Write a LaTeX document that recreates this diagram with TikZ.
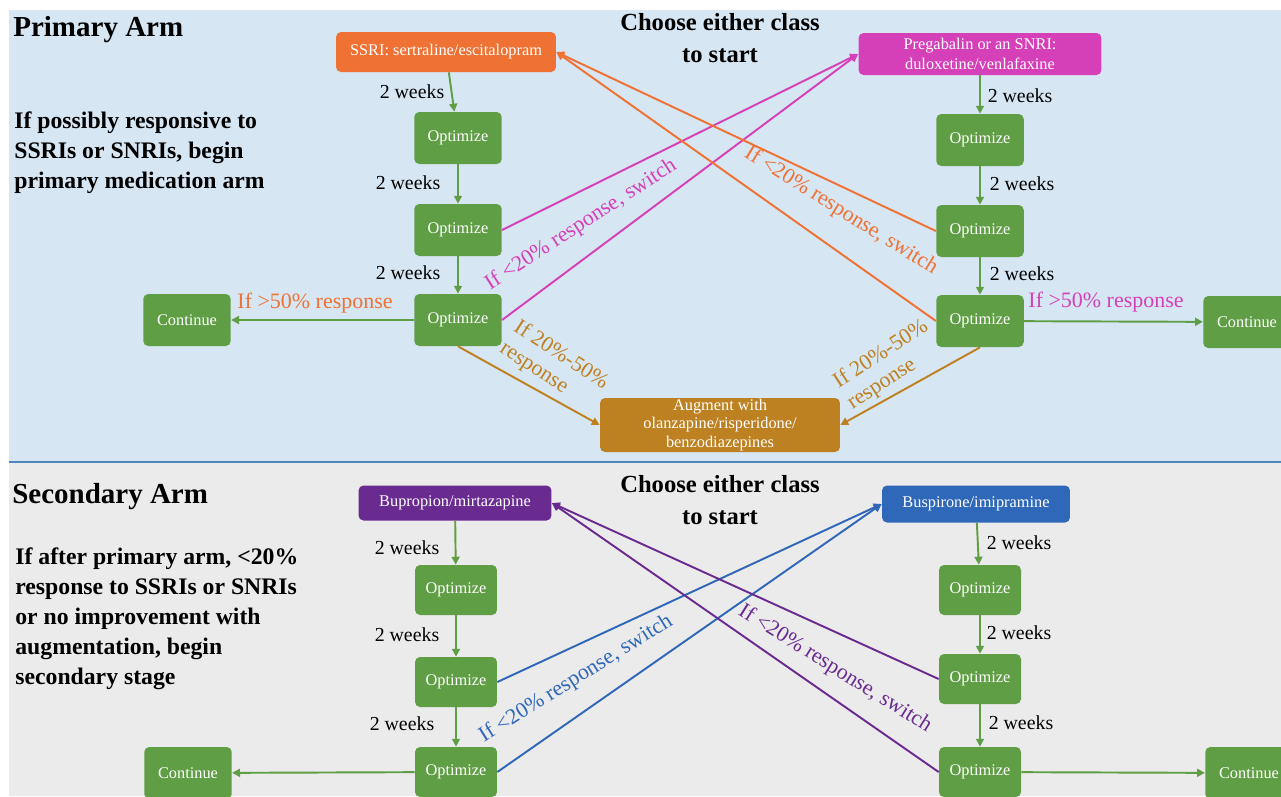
\documentclass[tikz,border=0pt]{standalone}
\usepackage{fontspec}
\setmainfont{Liberation Serif}
\usetikzlibrary{positioning,arrows.meta,calc}

\definecolor{bgtop}{HTML}{D7E6F3}
\definecolor{bgbot}{HTML}{EBEBEB}
\definecolor{sepblue}{HTML}{4F86BF}
\definecolor{optgreen}{HTML}{5F9E45}
\definecolor{ssriorange}{HTML}{EF7133}
\definecolor{snrimag}{HTML}{D540B9}
\definecolor{auggold}{HTML}{BE8121}
\definecolor{buppurple}{HTML}{6A2B90}
\definecolor{busblue}{HTML}{2F67B9}

\tikzset{
  box/.style={rounded corners=0.1cm, text=white, font=\fontsize{9.3}{11}\selectfont, align=center, inner sep=1pt},
  optbox/.style={box, fill=optgreen, minimum width=1.75cm, minimum height=1.04cm},
  optsmall/.style={box, fill=optgreen, minimum width=1.64cm, minimum height=1.0cm},
  link/.style={line width=1.1pt, -{Triangle[length=4.5pt,width=4.5pt]}},
  weeks/.style={font=\fontsize{11.3}{13}\selectfont},
  cond/.style={font=\fontsize{12.5}{14.5}\selectfont, align=left, inner sep=0pt},
  heading/.style={font=\bfseries\fontsize{16.5}{19}\selectfont, anchor=west, inner sep=0pt},
  note/.style={font=\bfseries\fontsize{13.5}{17.2}\selectfont, anchor=north west, align=left, inner sep=0pt},
  choose/.style={font=\bfseries\fontsize{14}{18}\selectfont, align=center}
}

\begin{document}
\begin{tikzpicture}[x=0.02cm, y=-0.02cm]
    \useasboundingbox (0,0) rectangle (1281,796);
    \clip (0,0) rectangle (1281,796);

    % Panels
    \fill[bgtop] (9,10) rectangle (1281,461);
    \fill[bgbot] (9,463) rectangle (1281,796);
    \draw[sepblue, line width=1.6pt] (9,462) -- (1281,462);

    % ---------------- Primary arm ----------------
    \node[heading] (primtitle) at (13,30) {Primary Arm};
    \node[note] (primnote) at (14,111) {If possibly responsive to\\SSRIs or SNRIs, begin\\primary medication arm};
    \node[choose] (choosetop) at (720,38) {Choose either class\\to start};

    \node[box, fill=ssriorange, minimum width=4.4cm, minimum height=0.8cm] (ssri) at (446,52) {SSRI: sertraline/escitalopram};
    \node[box, fill=snrimag, minimum width=4.86cm, minimum height=0.84cm] (snri) at (980,54) {Pregabalin or an SNRI:\\duloxetine/venlafaxine};

    \foreach \i/\yl/\yr in {1/138/140, 2/230/231, 3/320/321}{
        \node[optbox] (lo\i) at (458,\yl) {Optimize};
        \node[optbox] (ro\i) at (980,\yr) {Optimize};
    }

    \node[optbox] (contL) at (187,320) {Continue};
    \node[optbox] (contR) at (1247,322) {Continue};
    \node[box, fill=auggold, minimum width=4.8cm, minimum height=1.08cm, inner sep=0pt, font=\fontsize{9.3}{10.4}\selectfont] (aug) at (720,425) {Augment with\\olanzapine/risperidone/\\benzodiazepines};

    % 2 weeks steps
    \foreach \a/\b in {ssri/lo1, lo1/lo2, lo2/lo3, snri/ro1, ro1/ro2, ro2/ro3}
        \draw[link, optgreen] (\a) -- (\b);
    \foreach \x/\y in {412/92, 408/183, 408/273, 1020/96, 1022/184, 1022/274}
        \node[weeks] at (\x,\y) {2 weeks};

    % Responders
    \draw[link, optgreen] (lo3) -- (contL);
    \draw[link, optgreen] (ro3) -- (contR);
    \node[cond, text=ssriorange] (respL) at (315,303) {If >50\% response};
    \node[cond, text=snrimag] (respR) at (1106,302) {If >50\% response};

    % Switching
    \draw[link, snrimag] (lo2.east) -- (snri.west);
    \draw[link, snrimag] (lo3.east) -- (snri.west);
    \draw[link, ssriorange] (ro2.west) -- (ssri.east);
    \draw[link, ssriorange] (ro3.west) -- (ssri.east);
    \node[cond, text=snrimag, rotate=33] (swL) at (581,225) {If <20\% response, switch};
    \node[cond, text=ssriorange, rotate=-32] (swR) at (841,211) {If <20\% response, switch};

    % Augmentation
    \draw[link, auggold] (lo3.south) -- (aug.west);
    \draw[link, auggold] (ro3.south) -- (aug.east);
    \node[cond, text=auggold, rotate=-33] (augL) at (554,366) {If 20\%-50\%\\response};
    \node[cond, text=auggold, rotate=33] (augR) at (888,365) {If 20\%-50\%\\response};

    % ---------------- Secondary arm ----------------
    \node[heading] (sectitle) at (12,497) {Secondary Arm};
    \node[note] (secnote) at (15,547) {If after primary arm, <20\%\\response to SSRIs or SNRIs\\or no improvement with\\augmentation, begin\\secondary stage};
    \node[choose] (choosebot) at (720,500) {Choose either class\\to start};

    \node[box, fill=buppurple, minimum width=3.86cm, minimum height=0.7cm] (bup) at (455,503) {Bupropion/mirtazapine};
    \node[box, fill=busblue, minimum width=3.76cm, minimum height=0.74cm] (bus) at (976,504) {Buspirone/imipramine};

    \foreach \i/\yl/\yr in {1/590/590, 2/682/679, 3/772/772}{
        \node[optsmall] (bl\i) at (456,\yl) {Optimize};
        \node[optsmall] (br\i) at (980,\yr) {Optimize};
    }

    \node[optbox] (contBL) at (188,773) {Continue};
    \node[optbox] (contBR) at (1249,773) {Continue};

    \foreach \a/\b in {bup/bl1, bl1/bl2, bl2/bl3, bus/br1, br1/br2, br2/br3}
        \draw[link, optgreen] (\a) -- (\b);
    \foreach \x/\y in {407/548, 407/635, 402/724, 1019/543, 1019/633, 1021/723}
        \node[weeks] at (\x,\y) {2 weeks};

    \draw[link, optgreen] (bl3) -- (contBL);
    \draw[link, optgreen] (br3) -- (contBR);

    \draw[link, busblue] (bl2.east) -- (bus.west);
    \draw[link, busblue] (bl3.east) -- (bus.west);
    \draw[link, buppurple] (br2.west) -- (bup.east);
    \draw[link, buppurple] (br3.west) -- (bup.east);
    \node[cond, text=busblue, rotate=32] (swBL) at (576,679) {If <20\% response, switch};
    \node[cond, text=buppurple, rotate=-32] (swBR) at (835,669) {If <20\% response, switch};
\end{tikzpicture}
\end{document}
